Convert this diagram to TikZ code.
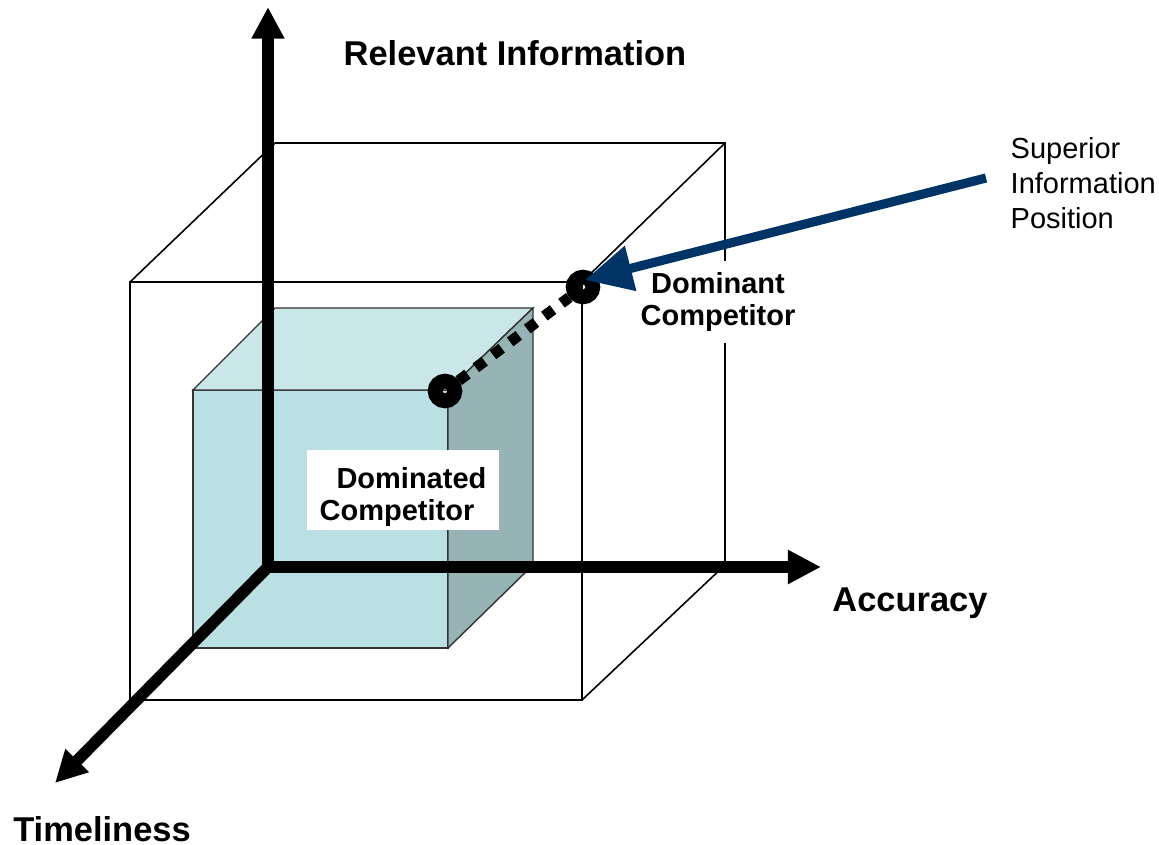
\documentclass[tikz,border=0pt]{standalone}
\usepackage{fontspec}
\setmainfont{Liberation Sans}
\usetikzlibrary{arrows.meta}

\definecolor{frontcyan}{RGB}{187,224,227}
\definecolor{topcyan}{RGB}{201,230,232}
\definecolor{sidecyan}{RGB}{150,180,182}
\definecolor{navyblue}{RGB}{0,51,102}

\begin{document}
\begin{tikzpicture}[x=0.1mm, y=-0.1mm,
        axis/.style={line width=3.3pt, -{Triangle[length=9pt, width=8.8pt]}},
        wire/.style={line width=0.45pt},
        face/.style={draw=black!80, line width=0.4pt},
        ring/.style={circle, draw, line width=4.2pt, minimum size=5.6pt, inner sep=0pt},
        axislabel/.style={font=\bfseries\fontsize{9.8}{12}\selectfont},
        tag/.style={font=\bfseries\fontsize{8.25}{9.1}\selectfont, fill=white, inner sep=3.3pt}]
        \useasboundingbox (0,0) rectangle (1159,845);

        % outer box, back edges first
        \draw[wire] (275,143) -- (725,143) -- (725,565);
        \draw[wire] (130,282) -- (275,143);
        \draw[wire] (582,282) -- (725,143);
        \draw[wire] (582,700) -- (725,565);
        \draw[wire] (130,700) -- (275,565);

        % inner box
        \draw[face, fill=frontcyan] (193,390) rectangle (448,648);
        \draw[face, fill=topcyan] (193,390) -- (275,308) -- (533,308) -- (448,390) -- cycle;
        \draw[face, fill=sidecyan] (448,390) -- (533,308) -- (533,565) -- (448,648) -- cycle;

        \draw[wire] (130,282) rectangle (582,700);

        % axes
        \coordinate (origin) at (268,567);
        \coordinate (infotip) at (268,7);
        \coordinate (acctip) at (821,567);
        \coordinate (timetip) at (55,783);
        \draw[axis] (origin) -- (infotip);
        \draw[axis, -{Triangle[length=9.4pt, width=9.1pt]}] (origin) -- (acctip);
        \draw[axis] (origin) -- (timetip);

        \node[axislabel] (infolabel) at (515,53) {Relevant Information};
        \node[axislabel] (acclabel) at (910,603) {Accuracy};
        \node[axislabel] (timelabel) at (102,829) {Timeliness};

        % competitors
        \node[ring] (dominated) at (445,391) {};
        \node[ring] (dominant) at (583,287) {};
        \draw[line width=3.1pt, dash pattern=on 3.1pt off 3pt] (dominated) -- (dominant);

        \node[tag, align=center] (dominantlabel) at (718,302) {Dominant\\Competitor};
        \node[tag, align=left, inner ysep=0.5pt, minimum width=54.6pt, minimum height=22.8pt] (dominatedlabel) at (403,490) {\rule{0pt}{10pt}\hspace*{4.8pt}Dominated\\Competitor};

        \coordinate (superior) at (986,178);
        \draw[navyblue, line width=2.6pt, -{Triangle[length=13.4pt, width=12.6pt]}] (superior) -- ([shift={(2,-7)}]dominant.center);
        \node[anchor=west, align=left, inner sep=0pt, font=\fontsize{8.25}{9.96}\selectfont] (superiorlabel) at (1010,183) {Superior\\Information\\Position};

\end{tikzpicture}
\end{document}
